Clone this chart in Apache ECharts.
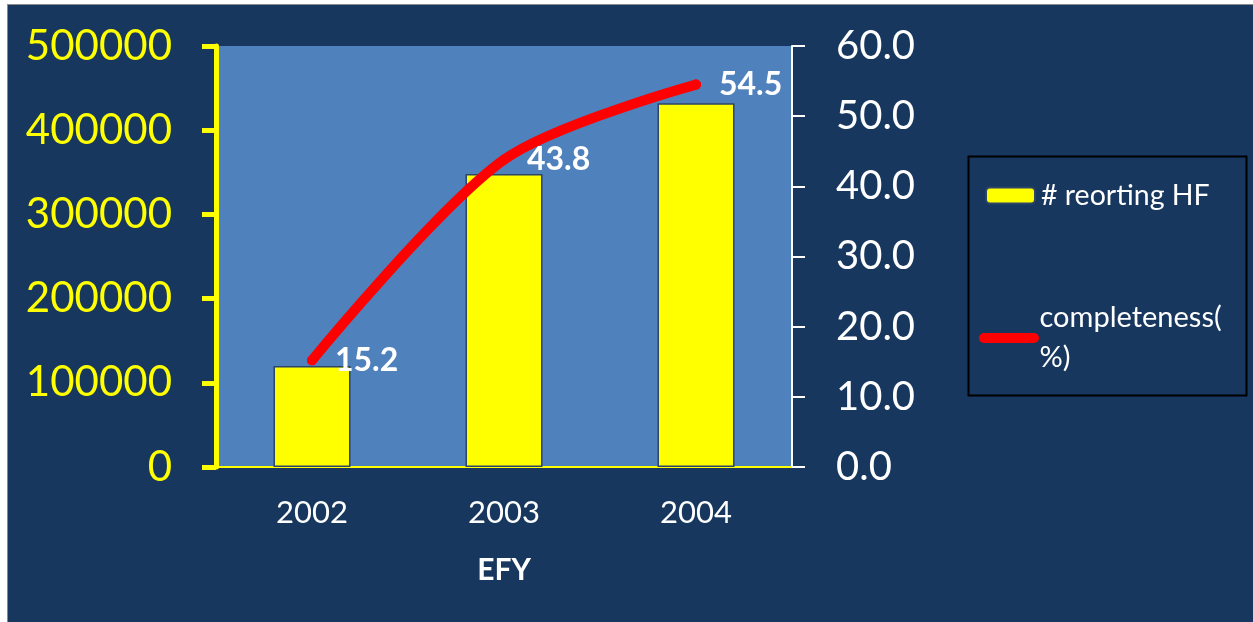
<!DOCTYPE html>
<html>
<head>
<meta charset="utf-8">
<script src="https://cdn.jsdelivr.net/npm/echarts@6/dist/echarts.min.js"></script>
<style>
html,body{margin:0;padding:0;background:#ffffff;width:1253px;height:622px;overflow:hidden;}
#bg{position:absolute;left:7px;top:4px;right:0;bottom:0;background:#17375E;border-left:1px solid #8a8a8a;border-top:1px solid #8a8a8a;}
#chart{position:absolute;left:0;top:0;width:1253px;height:622px;}
</style>
</head>
<body>
<div id="bg"></div>
<div id="chart"></div>
<script>
const categories = ['2002', '2003', '2004'];
const reportingHF = [120000, 348000, 432000];
const completeness = [15.2, 43.8, 54.5];
const leftTicks = {min: 0, max: 500000, interval: 100000};
const rightTicks = {min: 0, max: 60, interval: 10};

const FONT = 'Lato, "Open Sans", sans-serif';
const chart = echarts.init(document.getElementById('chart'), null, {renderer: 'canvas'});
chart.setOption({
  backgroundColor: 'transparent',
  animation: false,
  graphic: [{
    type: 'rect', left: 966, top: 154, z: 100,
    shape: {width: 278, height: 239},
    style: {fill: 'none', stroke: '#000000', lineWidth: 2}
  }],
  legend: [{
    data: ['# reorting HF'],
    left: 985, top: 181,
    itemWidth: 49, itemHeight: 16, itemGap: 0,
    padding: 0,
    textStyle: {color: '#ffffff', fontSize: 28.5, fontFamily: FONT, padding: [0, 0, 0, 1]},
    selectedMode: false
  }, {
    data: [{name: 'completeness(%)', icon: 'path://M5,0 L55,0 A5,5 0 0 1 55,10 L5,10 A5,5 0 0 1 5,0 Z'}],
    left: 979, top: 298,
    itemWidth: 61, itemHeight: 10,
    padding: 0,
    formatter: function () { return 'completeness(\n%)'; },
    textStyle: {color: '#ffffff', fontSize: 29, fontFamily: FONT, lineHeight: 40, padding: [0, 0, 0, -5]},
    selectedMode: false
  }],
  grid: {
    left: 216, right: 461, top: 46, bottom: 155,
    show: true, backgroundColor: '#4F81BD', borderWidth: 0,
    containLabel: false
  },
  xAxis: {
    type: 'category',
    data: categories,
    axisLine: {show: true, lineStyle: {color: '#FFFF00', width: 2}},
    axisTick: {show: false},
    axisLabel: {color: '#ffffff', fontSize: 31, fontFamily: FONT, margin: 30},
    name: 'EFY',
    nameLocation: 'middle',
    nameGap: 88,
    nameTextStyle: {color: '#ffffff', fontSize: 30, fontWeight: 'bold', fontFamily: FONT}
  },
  yAxis: [{
    type: 'value',
    position: 'left',
    min: leftTicks.min, max: leftTicks.max, interval: leftTicks.interval,
    splitLine: {show: false},
    axisLine: {show: true, lineStyle: {color: '#FFFF00', width: 5}},
    axisTick: {show: true, length: 14, lineStyle: {color: '#FFFF00', width: 5}},
    axisLabel: {color: '#FFFF00', fontSize: 42, fontFamily: FONT, margin: 44,
      formatter: function (v) { return String(v); }}
  }, {
    type: 'value',
    position: 'right',
    min: rightTicks.min, max: rightTicks.max, interval: rightTicks.interval,
    splitLine: {show: false},
    axisLine: {show: true, lineStyle: {color: '#ffffff', width: 2}},
    axisTick: {show: true, length: 13, lineStyle: {color: '#ffffff', width: 2}},
    axisLabel: {color: '#ffffff', fontSize: 40, fontFamily: FONT, margin: 44,
      formatter: function (v) { return v.toFixed(1); }}
  }],
  series: [{
    name: '# reorting HF',
    type: 'bar',
    data: reportingHF,
    yAxisIndex: 0,
    barWidth: 77,
    itemStyle: {color: '#FFFF00', borderColor: '#2B4468', borderWidth: 1.5}
  }, {
    name: 'completeness(%)',
    type: 'line',
    data: completeness,
    yAxisIndex: 1,
    smooth: 0.3,
    symbol: 'circle',
    symbolSize: 10,
    showSymbol: true,
    lineStyle: {color: '#FF0000', width: 10, cap: 'round', join: 'round'},
    itemStyle: {color: '#FF0000'},
    label: {
      show: true, position: 'right', distance: 18,
      color: '#ffffff', fontSize: 32, fontWeight: 'bold', fontFamily: FONT,
      formatter: function (p) { return p.value.toFixed(1); }
    },
    z: 5
  }]
});
</script>
</body>
</html>
